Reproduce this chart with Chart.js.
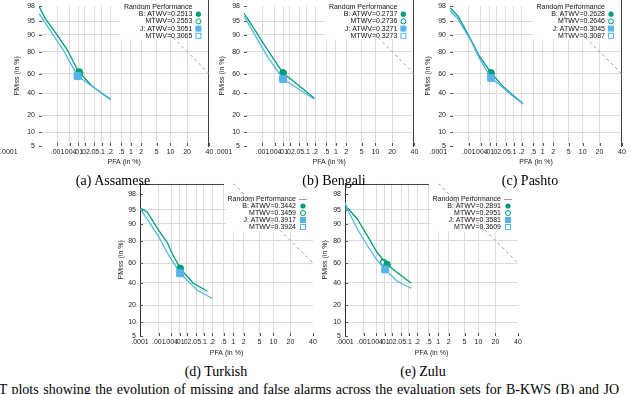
<!DOCTYPE html>
<html><head><meta charset="utf-8">
<script src="https://cdn.jsdelivr.net/npm/chart.js@4.4.1/dist/chart.umd.min.js"></script>
<style>
html,body{margin:0;padding:0;background:#fff;width:640px;height:394px;overflow:hidden;position:relative}
canvas{position:absolute;display:block}
.cap{position:absolute;font-family:'Liberation Serif','Times New Roman',serif;font-size:14px;line-height:16px;white-space:nowrap;color:#000;transform:translateX(-50%)}
.foot{position:absolute;left:-20px;top:382px;font-family:'Liberation Serif','Times New Roman',serif;font-size:14px;line-height:16px;white-space:nowrap;color:#000;word-spacing:1px}
</style></head><body>
<canvas id="ca" width="215" height="170" style="left:0px;top:0px"></canvas>
<canvas id="cb" width="205" height="170" style="left:215px;top:0px"></canvas>
<canvas id="cc" width="220" height="170" style="left:420px;top:0px"></canvas>
<canvas id="cd" width="220" height="182" style="left:100px;top:178px"></canvas>
<canvas id="ce" width="220" height="182" style="left:320px;top:178px"></canvas>
<div class="cap" style="left:113px;top:173px">(a) Assamese</div>
<div class="cap" style="left:334px;top:173px">(b) Bengali</div>
<div class="cap" style="left:530px;top:173px">(c) Pashto</div>
<div class="cap" style="left:216px;top:364px">(d) Turkish</div>
<div class="cap" style="left:423px;top:364px">(e) Zulu</div>
<div class="foot">DET plots showing the evolution of missing and false alarms across the evaluation sets for B-KWS (B) and JO</div>
<script>
// ---- axis ticks (percent) ----
const xTickValues = [0.0001, 0.001, 0.004, 0.01, 0.02, 0.05, 0.1, 0.2, 0.5, 1, 2, 5, 10, 20, 40];
const xTickLabels = ['.0001', '.001', '.004', '.01', '.02', '.05', '.1', '.2', '.5', '1', '2', '5', '10', '20', '40'];
const yTickValues = [5, 10, 20, 40, 60, 80, 90, 95, 98];
const yTickLabels = ['5', '10', '20', '40', '60', '80', '90', '95', '98'];
const legendNames = ['Random Performance', 'B: ATWV=', 'MTWV=', 'J: ATWV=', 'MTWV='];

// ---- random performance line (PFA %, PMiss %) ----
const randomPfa = [1, 2, 5, 10, 20, 40];
const randomPmiss = [99, 98, 95, 90, 80, 60];

// ---- Assamese ----
const assameseB_pfa = [0.0001, 0.00022, 0.0004, 0.00095, 0.003, 0.0105, 0.02, 0.042, 0.1, 0.21];
const assameseB_pmiss = [97.9, 95.7, 93.8, 90, 81.5, 62, 55.3, 46.8, 39.9, 34];
const assameseJ_pfa = [0.0001, 0.0004, 0.001, 0.0019, 0.004, 0.0095, 0.02, 0.061, 0.12, 0.21];
const assameseJ_pmiss = [96.8, 92.1, 86.6, 81.5, 71.8, 58, 52.5, 43.8, 38, 33.5];
const assameseMark_pfa = [0.0117, 0.011, 0.0092, 0.0098];
const assameseMark_pmiss = [61.3, 62, 58, 57.5];
const assameseScores = ['0.2513', '0.2553', '0.3051', '0.3065'];

// ---- Bengali ----
const bengaliB_pfa = [0.0001, 0.0004, 0.001, 0.0019, 0.004, 0.0099, 0.042, 0.1, 0.19];
const bengaliB_pmiss = [96.8, 92.1, 86.3, 80.8, 72.7, 61, 49, 40.9, 35];
const bengaliJ_pfa = [0.0001, 0.0004, 0.001, 0.0019, 0.004, 0.0099, 0.042, 0.1, 0.19];
const bengaliJ_pmiss = [96.2, 90, 82.5, 75.5, 66.9, 55, 44.8, 38.7, 34];
const bengaliMark_pfa = [0.0099, 0.0099, 0.0099, 0.0099];
const bengaliMark_pmiss = [61, 61, 54.7, 54.7];
const bengaliScores = ['0.2737', '0.2736', '0.3271', '0.3273'];

// ---- Pashto ----
const pashtoB_pfa = [0.0001, 0.00028, 0.0013, 0.0032, 0.0117, 0.042, 0.1, 0.215];
const pashtoB_pmiss = [97.7, 96.2, 87.6, 77.1, 61, 45.8, 37.5, 30.3];
const pashtoJ_pfa = [0.0001, 0.00028, 0.0013, 0.0032, 0.0117, 0.042, 0.1, 0.23];
const pashtoJ_pmiss = [97.3, 95.5, 87, 75.5, 56, 44.8, 36.5, 29.4];
const pashtoMark_pfa = [0.0117, 0.0117, 0.0117, 0.0117];
const pashtoMark_pmiss = [61, 61, 56, 56];
const pashtoScores = ['0.2628', '0.2646', '0.3045', '0.3087'];

// ---- Turkish ----
const turkishB_pfa = [0.0001, 0.00025, 0.0008, 0.0026, 0.0045, 0.0104, 0.038, 0.133];
const turkishB_pmiss = [95.5, 94.4, 88.1, 78.5, 69.3, 54.7, 39.3, 31.6];
const turkishJ_pfa = [0.0001, 0.00028, 0.00092, 0.0026, 0.0045, 0.0104, 0.055, 0.2];
const turkishJ_pmiss = [95.3, 91.3, 83.4, 70.2, 62.6, 49.5, 32.5, 25.4];
const turkishMark_pfa = [0.0104, 0.0104, 0.0104, 0.0104];
const turkishMark_pmiss = [54.7, 54.7, 49.5, 49.5];
const turkishScores = ['0.3442', '0.3459', '0.3917', '0.3924'];

// ---- Zulu ----
const zuluB_pfa = [0.0001, 0.00015, 0.00045, 0.0015, 0.0045, 0.0128, 0.034, 0.122];
const zuluB_pmiss = [95.5, 95.3, 92.1, 83.4, 70.2, 58.7, 50.5, 39.3];
const zuluJ_pfa = [0.0001, 0.00015, 0.00045, 0.0015, 0.0045, 0.0104, 0.034, 0.122];
const zuluJ_pmiss = [96.6, 94.7, 87.6, 76.2, 62.7, 53.6, 41.3, 34.4];
const zuluMark_pfa = [0.0128, 0.0088, 0.0104, 0.0104];
const zuluMark_pmiss = [58.7, 60.7, 53.6, 53.6];
const zuluScores = ['0.2891', '0.2951', '0.3581', '0.3609'];

// ---- normal deviate (probit) transform used by DET axes ----
function probit(p) {
  const a=[-3.969683028665376e+01,2.209460984245205e+02,-2.759285104469687e+02,1.383577518672690e+02,-3.066479806614716e+01,2.506628277459239e+00];
  const b=[-5.447609879822406e+01,1.615858368580409e+02,-1.556989798598866e+02,6.680131188771972e+01,-1.328068155288572e+01];
  const c=[-7.784894002430293e-03,-3.223964580411365e-01,-2.400758277161838e+00,-2.549732539343734e+00,4.374664141464968e+00,2.938163982698783e+00];
  const d=[7.784695709041462e-03,3.224671290700398e-01,2.445134137142996e+00,3.754408661907416e+00];
  const pl=0.02425, ph=1-pl; let q, r;
  if (p < pl) { q=Math.sqrt(-2*Math.log(p)); return (((((c[0]*q+c[1])*q+c[2])*q+c[3])*q+c[4])*q+c[5])/((((d[0]*q+d[1])*q+d[2])*q+d[3])*q+1); }
  if (p <= ph) { q=p-0.5; r=q*q; return (((((a[0]*r+a[1])*r+a[2])*r+a[3])*r+a[4])*r+a[5])*q/(((((b[0]*r+b[1])*r+b[2])*r+b[3])*r+b[4])*r+1); }
  q=Math.sqrt(-2*Math.log(1-p)); return -(((((c[0]*q+c[1])*q+c[2])*q+c[3])*q+c[4])*q+c[5])/((((d[0]*q+d[1])*q+d[2])*q+d[3])*q+1);
}
const pz = v => probit(v / 100);
const pts = (xs, ys) => xs.map((x, i) => ({x: pz(x), y: pz(ys[i])}));

const GREEN = '#009e73', BLUE = '#56b4e9', PURPLE = '#b982e0';
const FONT = "'Liberation Sans', Arial, sans-serif";

const gpPlugin = {
  id: 'gp',
  beforeDatasetsDraw(chart, args, o) {
    const {ctx, chartArea: ca} = chart;
    const xs = chart.scales.x, ys = chart.scales.y;
    ctx.save();
    ctx.fillStyle = '#fff';
    const bx = Math.round(ca.right - o.blankW);
    ctx.fillRect(bx, Math.floor(ca.top) - 1, Math.round(ca.right) - bx, o.blankBottom - ca.top + 1);
    ctx.strokeStyle = '#555'; ctx.lineWidth = 1;
    ctx.beginPath();
    xs.ticks.forEach((t, i) => { if (i === 0) return; const px = Math.round(xs.getPixelForValue(t.value)) + 0.5; ctx.moveTo(px, ca.bottom); ctx.lineTo(px, ca.bottom - 3); });
    ys.ticks.forEach(t => { const py = Math.round(ys.getPixelForValue(t.value)) + 0.5; ctx.moveTo(ca.left, py); ctx.lineTo(ca.left + 3, py); });
    ctx.stroke();
    ctx.strokeStyle = '#444';
    if (o.rightBorder) { ctx.beginPath(); const rx = Math.round(ca.right) - 0.5; ctx.moveTo(rx, 0); ctx.lineTo(rx, ca.bottom + 1); ctx.stroke(); }
    if (o.topBorder) { ctx.beginPath(); const ty = Math.round(ca.top) + 0.5; ctx.moveTo(ca.left, ty); ctx.lineTo(bx - 2, ty); ctx.stroke(); }
    ctx.restore();
  },
  afterDatasetsDraw(chart, args, o) {
    const {ctx, chartArea: ca} = chart;
    ctx.save();
    ctx.font = '7px ' + FONT; ctx.fillStyle = '#111'; ctx.textAlign = 'right'; ctx.textBaseline = 'middle';
    const tr = ca.right - o.textOff, sx = ca.right - o.symOff;
    o.entries.forEach((txt, i) => {
      const y = o.y0 + i * o.dy;
      ctx.fillText(txt, tr, y);
      ctx.lineWidth = 1;
      if (i === 0) { if (o.randomSample) { ctx.strokeStyle = PURPLE; ctx.beginPath(); ctx.moveTo(sx - 4, y + 0.5); ctx.lineTo(sx + 4, y + 0.5); ctx.stroke(); } }
      else if (i === 1) { ctx.fillStyle = GREEN; ctx.beginPath(); ctx.arc(sx, y, 2.6, 0, Math.PI * 2); ctx.fill(); ctx.fillStyle = '#111'; }
      else if (i === 2) { ctx.strokeStyle = GREEN; ctx.beginPath(); ctx.arc(sx, y, 2.5, 0, Math.PI * 2); ctx.stroke(); }
      else if (i === 3) { ctx.fillStyle = BLUE; ctx.fillRect(sx - 3, y - 3, 6, 6); ctx.fillStyle = '#111'; }
      else { ctx.strokeStyle = BLUE; ctx.strokeRect(sx - 2.5, y - 2.5, 5, 5); }
    });
    ctx.restore();
  }
};

function makeChart(id, p) {
  const datasets = [
    {data: pts([p.mark_pfa[3]], [p.mark_pmiss[3]]), pointStyle: 'rect', pointRadius: 4.6, backgroundColor: 'rgba(0,0,0,0)', borderColor: BLUE, borderWidth: 1, showLine: false},
    {data: pts([p.mark_pfa[2]], [p.mark_pmiss[2]]), pointStyle: 'rect', pointRadius: 4.6, backgroundColor: BLUE, borderColor: BLUE, borderWidth: 1, showLine: false},
    {data: pts(p.j_pfa, p.j_pmiss), showLine: true, pointRadius: 0, borderColor: BLUE, borderWidth: 1.3, fill: false},
    {data: pts([p.mark_pfa[1]], [p.mark_pmiss[1]]), pointStyle: 'circle', pointRadius: 3, backgroundColor: 'rgba(0,0,0,0)', borderColor: GREEN, borderWidth: 1.2, showLine: false},
    {data: pts([p.mark_pfa[0]], [p.mark_pmiss[0]]), pointStyle: 'circle', pointRadius: 3.2, backgroundColor: GREEN, borderColor: GREEN, borderWidth: 1, showLine: false},
    {data: pts(p.b_pfa, p.b_pmiss), showLine: true, pointRadius: 0, borderColor: GREEN, borderWidth: 1.3, fill: false},
    {data: pts(randomPfa, randomPmiss), showLine: true, pointRadius: 0, borderColor: PURPLE, borderWidth: 1, borderDash: [3, 3], fill: false}
  ];
  const entries = legendNames.map((n, i) => i === 0 ? n : n + p.scores[i - 1]);
  const gridCol = (n) => (c) => (c.index === 0 || c.index === n - 1) ? 'rgba(0,0,0,0)' : '#dcdcdc';
  return new Chart(document.getElementById(id), {
    type: 'scatter',
    data: {datasets},
    options: {
      responsive: false, animation: false, devicePixelRatio: 1,
      layout: {padding: {left: 0, top: p.padTop, right: p.padRight, bottom: 0}},
      plugins: {
        legend: {display: false}, tooltip: {enabled: false},
        gp: {entries, textOff: p.textOff, symOff: p.symOff, y0: p.legendY0, dy: p.dy, blankW: p.blankW, blankBottom: p.blankBottom,
             rightBorder: p.rightBorder, topBorder: p.topBorder, randomSample: p.randomSample}
      },
      scales: {
        x: {
          type: 'linear', min: pz(0.0001), max: pz(40),
          afterBuildTicks: s => { s.ticks = xTickValues.map(v => ({value: pz(v)})); },
          afterFit: s => { s.height = p.xh; s.paddingLeft = 0; s.paddingRight = 0; },
          ticks: {autoSkip: false, maxRotation: 0, minRotation: 0, padding: 2, color: '#222', font: {family: FONT, size: 7},
                  callback: (v, i) => i === 0 ? xTickLabels[0] + ' '.repeat(p.pad0) : xTickLabels[i]},
          grid: {drawTicks: false, color: gridCol(xTickValues.length), lineWidth: 1},
          border: {display: false},
          title: {display: true, text: 'PFA (in %)', color: '#222', font: {family: FONT, size: 7}, padding: {top: 0, bottom: p.xtPad}}
        },
        y: {
          type: 'linear', min: pz(5), max: pz(p.ymax),
          afterBuildTicks: s => { s.ticks = yTickValues.map(v => ({value: pz(v)})); },
          afterFit: s => { s.width = p.yw; s.paddingTop = 0; s.paddingBottom = 0; },
          ticks: {autoSkip: false, padding: 4, color: '#222', font: {family: FONT, size: 7}, callback: (v, i) => yTickLabels[i]},
          grid: {drawTicks: false, color: gridCol(yTickValues.length), lineWidth: 1},
          border: {display: p.leftBorder, color: '#333', width: 1},
          title: {display: true, text: 'PMiss (in %)', color: '#222', font: {family: FONT, size: 7}, padding: {top: p.ytPad, bottom: 0}}
        }
      }
    },
    plugins: [gpPlugin]
  });
}

const topRow = {padTop: 2, xh: 24, xtPad: 3.8, ymax: 98, leftBorder: false, rightBorder: true, topBorder: false,
                legendY0: 7, dy: 7.2, textOff: 17, symOff: 11, randomSample: false, blankW: 89, blankBottom: 40};
const botRow = {padTop: 5, xh: 24, xtPad: 2.8, ymax: 99, leftBorder: true, rightBorder: false, topBorder: true,
                legendY0: 21, dy: 7, textOff: 17, symOff: 10, randomSample: true, blankW: 87, blankBottom: 54};

makeChart('ca', Object.assign({}, topRow, {padRight: 4, yw: 39, ytPad: 12.8, pad0: 31,
  b_pfa: assameseB_pfa, b_pmiss: assameseB_pmiss, j_pfa: assameseJ_pfa, j_pmiss: assameseJ_pmiss,
  mark_pfa: assameseMark_pfa, mark_pmiss: assameseMark_pmiss, scores: assameseScores}));
makeChart('cb', Object.assign({}, topRow, {padRight: 4, yw: 29, ytPad: 2.8, pad0: 21,
  b_pfa: bengaliB_pfa, b_pmiss: bengaliB_pmiss, j_pfa: bengaliJ_pfa, j_pmiss: bengaliJ_pmiss,
  mark_pfa: bengaliMark_pfa, mark_pmiss: bengaliMark_pmiss, scores: bengaliScores}));
makeChart('cc', Object.assign({}, topRow, {padRight: 18, yw: 30, ytPad: 3.8, pad0: 12,
  b_pfa: pashtoB_pfa, b_pmiss: pashtoB_pmiss, j_pfa: pashtoJ_pfa, j_pmiss: pashtoJ_pmiss,
  mark_pfa: pashtoMark_pfa, mark_pmiss: pashtoMark_pmiss, scores: pashtoScores}));
makeChart('cd', Object.assign({}, botRow, {padRight: 7, yw: 40, ytPad: 16.8, pad0: 0,
  b_pfa: turkishB_pfa, b_pmiss: turkishB_pmiss, j_pfa: turkishJ_pfa, j_pmiss: turkishJ_pmiss,
  mark_pfa: turkishMark_pfa, mark_pmiss: turkishMark_pmiss, scores: turkishScores}));
makeChart('ce', Object.assign({}, botRow, {padRight: 22, yw: 25, ytPad: 0.8, pad0: 0,
  b_pfa: zuluB_pfa, b_pmiss: zuluB_pmiss, j_pfa: zuluJ_pfa, j_pmiss: zuluJ_pmiss,
  mark_pfa: zuluMark_pfa, mark_pmiss: zuluMark_pmiss, scores: zuluScores}));
</script>
</body></html>
